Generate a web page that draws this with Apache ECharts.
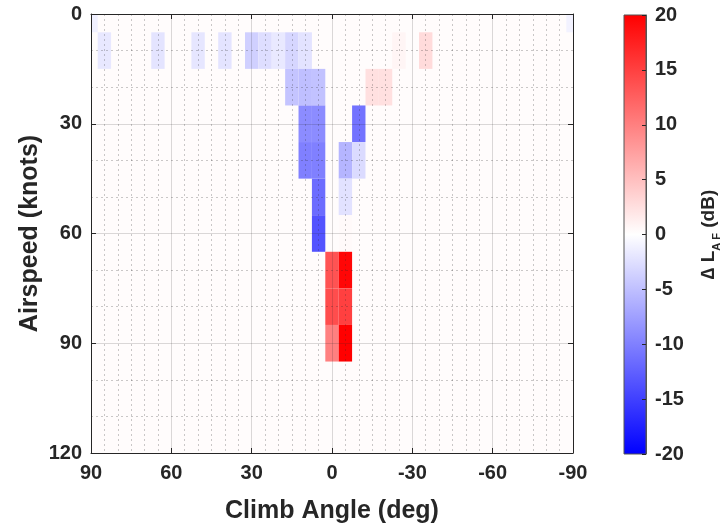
<!DOCTYPE html>
<html><head><meta charset="utf-8">
<script src="https://cdn.jsdelivr.net/npm/echarts@6/dist/echarts.min.js"></script>
<style>html,body{margin:0;padding:0;background:#fff}#c{width:723px;height:529px}</style>
</head><body><div id="c"></div>
<script>
// Heatmap cells: climb angle (deg), airspeed (knots), delta L_AF (dB)
const cellAngle = [90, -90,
  85, 65, 50, 40, 30, 25, 20, 15, 10, -25, -35,
  15, 10, 5, -15, -20,
  10, 5, -10,
  10, 5, -5, -10,
  5, -5,
  5, -5,
  0, -5,
  0, -5,
  0, -5];
const cellSpeed = [0, 0,
  10, 10, 10, 10, 10, 10, 10, 10, 10, 10, 10,
  20, 20, 20, 20, 20,
  30, 30, 30,
  40, 40, 40, 40,
  50, 50,
  60, 60,
  70, 70,
  80, 80,
  90, 90];
const cellDelta = [-1.2, -1.0,
  -1.8, -2.1, -2.0, -2.1, -3.7, -2.6, -1.7, -3.2, -2.2, 0.8, 2.8,
  -4.6, -5.0, -4.8, 2.4, 2.4,
  -9.0, -9.0, -11.0,
  -10.0, -10.0, -5.8, -2.8,
  -11.5, -2.3,
  -13.5, 0.4,
  13.5, 19.5,
  14.0, 15.0,
  10.0, 20.0];
const cellWidthDeg = 5;
const cellHeightKnots = 10;
const colorTicks = [-20, -15, -10, -5, 0, 5, 10, 15, 20];

const FONT = 'Liberation Sans';
const TXT = '#262626';
const cells = cellAngle.map((a, i) => [a, cellSpeed[i], cellDelta[i]]);

const chart = echarts.init(document.getElementById('c'), null, {renderer: 'canvas'});
const labelStyle = {fontFamily: FONT, fontWeight: 'bold', fontSize: 20, color: TXT};
const nameStyle = {fontFamily: FONT, fontWeight: 'bold', fontSize: 25, color: TXT};
const lineStyle = {color: TXT, width: 1};

chart.setOption({
  animation: false,
  grid: [
    {left: 91, top: 14, width: 482, height: 441, show: true, backgroundColor: '#fffcfc', borderWidth: 0},
    {left: 624, top: 15, width: 27, height: 439, show: false}
  ],
  visualMap: {
    show: false, type: 'continuous', seriesIndex: 0, dimension: 2,
    min: -20, max: 20,
    inRange: {color: ['#0000ff', '#ffffff', '#ff0000']}
  },
  xAxis: [
    {
      gridIndex: 0, type: 'value', min: -90, max: 90, interval: 30, inverse: true, position: 'bottom', z: 5,
      axisLine: {onZero: false, lineStyle: lineStyle},
      axisTick: {inside: true, length: 5, lineStyle: lineStyle},
      axisLabel: Object.assign({margin: 10}, labelStyle),
      splitLine: {show: true, lineStyle: {color: TXT, opacity: 0.17}},
      minorTick: {show: false, splitNumber: 6},
      minorSplitLine: {show: true, lineStyle: {color: TXT, opacity: 0.25, type: [2, 3]}},
      name: 'Climb Angle (deg)', nameLocation: 'middle', nameGap: 46, nameTextStyle: nameStyle
    },
    {
      gridIndex: 0, type: 'value', min: -90, max: 90, interval: 30, inverse: true, position: 'top', z: 5,
      axisLine: {onZero: false, lineStyle: lineStyle},
      axisTick: {inside: true, length: 5, lineStyle: lineStyle},
      axisLabel: {show: false}, splitLine: {show: false}
    },
    {gridIndex: 1, type: 'value', min: 0, max: 1, show: false}
  ],
  yAxis: [
    {
      gridIndex: 0, type: 'value', min: 0, max: 120, interval: 30, inverse: true, position: 'left', z: 5,
      axisLine: {onZero: false, lineStyle: lineStyle},
      axisTick: {inside: true, length: 5, lineStyle: lineStyle},
      axisLabel: Object.assign({margin: 9}, labelStyle),
      splitLine: {show: true, lineStyle: {color: TXT, opacity: 0.17}},
      minorTick: {show: false, splitNumber: 3},
      minorSplitLine: {show: true, lineStyle: {color: TXT, opacity: 0.25, type: [2, 3]}},
      name: 'Airspeed (knots)', nameLocation: 'middle', nameGap: 48, nameRotate: 90, nameMoveOverlap: false,
      nameTextStyle: nameStyle
    },
    {
      gridIndex: 0, type: 'value', min: 0, max: 120, interval: 30, inverse: true, position: 'right', z: 5,
      axisLine: {onZero: false, lineStyle: lineStyle},
      axisTick: {inside: true, length: 5, lineStyle: lineStyle},
      axisLabel: {show: false}, splitLine: {show: false}
    },
    {
      gridIndex: 1, type: 'value', min: colorTicks[0], max: colorTicks[colorTicks.length - 1], interval: 5, position: 'right', z: 5,
      axisLine: {show: true, onZero: false, lineStyle: {color: '#555', width: 1}},
      axisTick: {show: true, inside: true, length: 4, lineStyle: lineStyle},
      axisLabel: Object.assign({margin: 9}, labelStyle),
      splitLine: {show: false},
      name: '{d|\u2206 L}{s|A F}{d| (dB)}', nameLocation: 'middle', nameGap: 50, nameRotate: 90,
      nameTextStyle: {
        rich: {
          d: {fontFamily: FONT, fontWeight: 'bold', fontSize: 19, color: TXT, lineHeight: 26, verticalAlign: 'middle'},
          s: {fontFamily: FONT, fontWeight: 'bold', fontSize: 11, color: TXT, lineHeight: 26, verticalAlign: 'bottom'}
        }
      }
    }
  ],
  series: [
    {
      type: 'custom', xAxisIndex: 0, yAxisIndex: 0, data: cells,
      encode: {x: 0, y: 1},
      renderItem: function (params, api) {
        const a = api.value(0), s = api.value(1);
        const p1 = api.coord([a + cellWidthDeg / 2, s - cellHeightKnots / 2]);
        const p2 = api.coord([a - cellWidthDeg / 2, s + cellHeightKnots / 2]);
        const r = echarts.graphic.clipRectByRect({
          x: Math.min(p1[0], p2[0]), y: Math.min(p1[1], p2[1]),
          width: Math.abs(p2[0] - p1[0]), height: Math.abs(p2[1] - p1[1])
        }, {
          x: params.coordSys.x, y: params.coordSys.y,
          width: params.coordSys.width, height: params.coordSys.height
        });
        return r && {type: 'rect', shape: r, style: {fill: api.visual('color')}};
      }
    },
    {
      type: 'custom', xAxisIndex: 2, yAxisIndex: 2, data: [[0, 0]], z: 3,
      renderItem: function (params, api) {
        const top = api.coord([0, colorTicks[colorTicks.length - 1]]);
        const bot = api.coord([1, colorTicks[0]]);
        return {
          type: 'rect',
          shape: {x: top[0], y: top[1], width: bot[0] - top[0], height: bot[1] - top[1]},
          style: {
            fill: new echarts.graphic.LinearGradient(0, 0, 0, 1, [
              {offset: 0, color: '#ff0000'}, {offset: 0.5, color: '#ffffff'}, {offset: 1, color: '#0000ff'}
            ]),
            stroke: '#555', lineWidth: 1
          }
        };
      }
    }
  ]
});
</script></body></html>
